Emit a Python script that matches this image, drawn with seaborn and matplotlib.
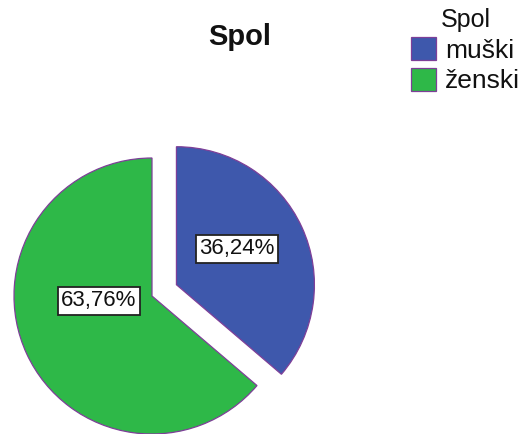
import matplotlib
matplotlib.use("Agg")
import matplotlib.pyplot as plt
import seaborn as sns

sns.set_theme(style="white")
plt.rcParams['font.family'] = ['Liberation Sans', 'DejaVu Sans']

categories = ["muški", "ženski"]
values = [36.24, 63.76]
colors = ["#3E58AC", "#2EB848"]
edge_color = "#7E3F98"
title = "Spol"
legend_title = "Spol"

W, H = 523, 434
fig = plt.figure(figsize=(W / 100, H / 100), dpi=100)
ax = fig.add_axes([0, 0, 1, 1])

wedges, texts, autotexts = ax.pie(
    values,
    colors=colors,
    explode=[0.195, 0.0],
    startangle=90,
    counterclock=False,
    autopct=lambda p: f"{p:.2f}%".replace(".", ","),
    pctdistance=0.5,
    wedgeprops=dict(edgecolor=edge_color, linewidth=0.9),
    textprops=dict(fontsize=16, color="#111111"),
    frame=False,
)

r_px = 138.0
cx, cy = 152.0, 296.0
ax.set_xlim(-cx / r_px, (W - cx) / r_px)
ax.set_ylim(-(H - cy) / r_px, cy / r_px)
ax.set_aspect("equal")
ax.axis("off")

label_pos = [(0.617, 0.341), (-0.385, -0.036)]
for t, pos in zip(autotexts, label_pos):
    t.set_position(pos)
    t.set_ha("center")
    t.set_va("center")
    t.set_bbox(dict(boxstyle="square,pad=0.15", facecolor="white",
                    edgecolor="#222222", linewidth=1.3))

fig.text(240 / W, 1 - 37 / H, title, ha="center", va="center",
         fontsize=21, fontweight="bold", color="#111111")

leg = fig.legend(
    wedges, categories, title=legend_title,
    loc="upper left", bbox_to_anchor=(411 / W, 1 - 8 / H),
    frameon=False, fontsize=19, title_fontsize=18,
    handlelength=0.95, handleheight=0.95, handletextpad=0.35,
    labelspacing=0.2, borderpad=0.0, borderaxespad=0.0,
)
for txt in leg.get_texts():
    txt.set_color("#111111")
leg.get_title().set_color("#111111")

fig.savefig("out.png", dpi=100, facecolor="white")
